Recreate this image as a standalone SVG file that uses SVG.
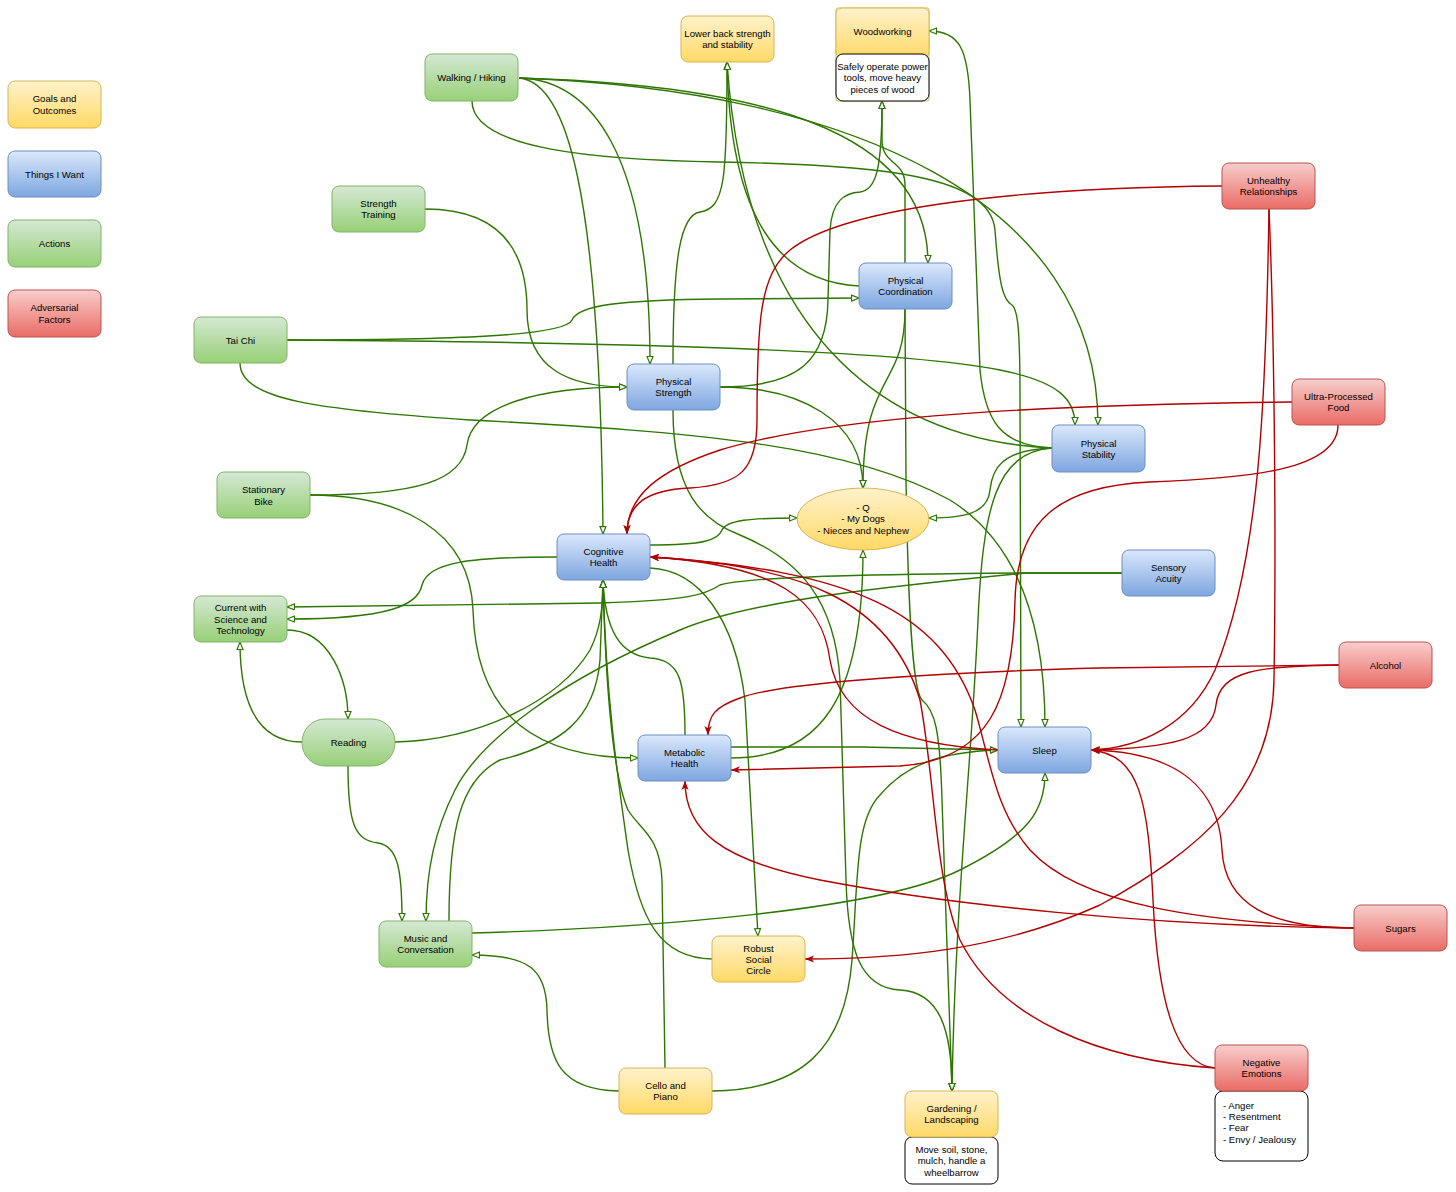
<svg xmlns="http://www.w3.org/2000/svg" width="1456" height="1192" viewBox="0 0 1456 1192">
<defs>
<linearGradient id="gy" x1="0" y1="0" x2="0" y2="1"><stop offset="0" stop-color="#fff2cc"/><stop offset="1" stop-color="#ffd966"/></linearGradient>
<linearGradient id="gb" x1="0" y1="0" x2="0" y2="1"><stop offset="0" stop-color="#dae8fc"/><stop offset="1" stop-color="#7ea6e0"/></linearGradient>
<linearGradient id="gg" x1="0" y1="0" x2="0" y2="1"><stop offset="0" stop-color="#d5e8d4"/><stop offset="1" stop-color="#97d077"/></linearGradient>
<linearGradient id="gr" x1="0" y1="0" x2="0" y2="1"><stop offset="0" stop-color="#f8cecc"/><stop offset="1" stop-color="#ea6b66"/></linearGradient>
<marker id="ga" viewBox="0 0 10 8" refX="9.3" refY="4" markerWidth="9" markerHeight="7.2" orient="auto" markerUnits="userSpaceOnUse"><path d="M1,0.7 L9.3,4 L1,7.3 Z" fill="#fff" stroke="#2D7600" stroke-width="1.3"/></marker>
<marker id="ra" viewBox="0 0 10 8" refX="10" refY="4" markerWidth="9" markerHeight="7.2" orient="auto" markerUnits="userSpaceOnUse"><path d="M0,0 L10,4 L0,8 L2.5,4 Z" fill="#B20000"/></marker>
<style>
.y{fill:url(#gy);stroke:#d6b656;stroke-width:1}
.b{fill:url(#gb);stroke:#6c8ebf;stroke-width:1}
.g{fill:url(#gg);stroke:#82b366;stroke-width:1}
.r{fill:url(#gr);stroke:#b85450;stroke-width:1}
.d{fill:#fff;stroke:#000;stroke-width:1}
text{font-family:"Liberation Sans",Arial,Helvetica,sans-serif;font-size:9.6px;fill:#000;text-anchor:middle}
.l{text-anchor:start}
.eg{fill:none;stroke:#2D7600;stroke-width:1.4;marker-end:url(#ga)}
.er{fill:none;stroke:#B20000;stroke-width:1.4;marker-end:url(#ra)}
</style>
</defs>
<rect width="1456" height="1192" fill="#fff"/>
<g id="connectors">
<path class="eg" d="M519,78 C590,80 650,150 650,364"/>
<path class="eg" d="M519,78 C565,82 600,180 603,534"/>
<path class="eg" d="M519,78 C760,85 928,130 928,263"/>
<path class="eg" d="M519,78 C850,90 1098,200 1098,425"/>
<path class="eg" d="M472,101 C472,150 600,160 720,162 C880,165 990,175 995,230 C999,285 1003,300 1012,305 C1018,310 1020,330 1020,400 L1021,727"/>
<path class="eg" d="M287,340 C450,340 565,336 572,320 C578,305 620,300 720,299 L859,298"/>
<path class="eg" d="M287,340 C600,342 900,350 1000,370 C1060,382 1075,400 1075,425"/>
<path class="eg" d="M240,363 C240,400 320,410 470,420 C700,432 850,445 950,500 C1030,550 1045,650 1045,727"/>
<path class="eg" d="M425,209 C500,209 527,250 527,310 C527,370 570,387 627,387"/>
<path class="eg" d="M310,495 C420,495 462,480 467,445 C472,405 540,387 627,387"/>
<path class="eg" d="M310,495 C400,495 470,530 473,610 C476,720 540,758 638,758"/>
<path class="eg" d="M720,387 C800,387 863,420 863,488"/>
<path class="eg" d="M905,309 C905,390 863,370 863,488"/>
<path class="eg" d="M720,387 C800,387 827,360 828,300 L830,230 C832,200 845,193 860,192 C876,190 882,170 882,101"/>
<path class="eg" d="M905,263 L905,185 C905,160 882,165 882,140 L882,101"/>
<path class="eg" d="M673,364 C673,260 680,215 700,212 C725,208 727,180 727,62"/>
<path class="eg" d="M859,286 C780,282 730,220 727,62"/>
<path class="eg" d="M1052,448 C880,440 745,330 727,62"/>
<path class="eg" d="M1052,448 C1000,446 985,420 980,370 L970,100 C968,50 960,31 929,31"/>
<path class="eg" d="M1052,448 C1000,450 992,470 990,490 C988,515 960,518 929,518"/>
<path class="eg" d="M1052,448 C995,452 983,510 978,620 C972,760 955,900 952,1091"/>
<path class="eg" d="M905,309 L906,480 C908,600 912,690 922,700 C935,710 940,730 942,800 L952,1091"/>
<path class="eg" d="M673,410 C673,490 700,520 740,535 C800,560 835,600 840,680 L846,880 C848,950 860,988 900,990 C940,992 952,1030 952,1091"/>
<path class="eg" d="M650,545 C705,545 718,540 722,530 C727,520 750,518 797,518"/>
<path class="eg" d="M650,568 C700,570 735,620 745,700 L758,936"/>
<path class="eg" d="M557,557 C470,557 428,562 422,585 C418,605 390,619 287,619"/>
<path class="eg" d="M1122,573 L1020,573 C900,574 750,576 720,585 C705,595 690,600 600,603 L287,607"/>
<path class="eg" d="M1122,573 L1025,573 C900,585 750,600 680,630 C560,680 480,740 455,790 C435,830 426,870 426,921"/>
<path class="eg" d="M287,630 C330,630 348,680 348,719"/>
<path class="eg" d="M302,742 C255,742 240,700 240,642"/>
<path class="eg" d="M395,742 C480,740 560,700 590,650 C600,630 603,610 603,580"/>
<path class="eg" d="M449,921 C449,830 460,780 500,760 C560,745 595,720 600,660 L603,580"/>
<path class="eg" d="M685,735 C685,680 680,660 650,658 C620,655 605,630 603,580"/>
<path class="eg" d="M712,959 C660,958 640,920 628,850 C618,780 606,700 603,580"/>
<path class="eg" d="M665,1068 L662,880 C660,835 640,830 628,810 C615,780 606,700 603,580"/>
<path class="eg" d="M348,766 C348,825 355,840 378,843 C398,846 402,870 402,921"/>
<path class="eg" d="M472,933 C650,928 880,910 960,870 C1030,835 1045,810 1045,773"/>
<path class="eg" d="M712,1091 C800,1090 845,1050 852,960 C858,880 855,820 880,795 C905,765 940,752 998,750"/>
<path class="eg" d="M619,1091 C560,1090 548,1060 547,1010 C546,970 530,955 472,955"/>
<path class="eg" d="M731,747 L862,747 L998,750"/>
<path class="eg" d="M731,758 C820,758 863,700 863,550"/>
<path class="er" d="M1222,186 C1000,188 840,210 790,250 C760,275 757,320 757,420 C757,470 740,485 690,488 C645,490 627,505 627,534"/>
<path class="er" d="M1292,402 C1000,405 820,420 720,450 C660,470 627,495 627,534"/>
<path class="er" d="M1338,425 C1338,470 1250,478 1150,482 C1060,486 1017,520 1015,600 C1013,700 990,760 900,766 L731,770"/>
<path class="er" d="M1339,665 L1100,668 C950,672 780,682 740,698 C715,707 708,715 708,735"/>
<path class="er" d="M1339,665 C1260,666 1220,670 1216,705 C1212,740 1170,748 1091,750"/>
<path class="er" d="M1269,209 C1266,400 1260,560 1215,670 C1190,725 1140,748 1091,750"/>
<path class="er" d="M1269,209 C1275,350 1276,550 1274,680 C1272,790 1200,850 1100,905 C1000,950 900,959 805,959"/>
<path class="er" d="M1354,928 C1270,928 1225,905 1222,850 C1219,790 1180,752 1091,750"/>
<path class="er" d="M1354,928 C1150,926 950,905 820,880 C720,860 685,830 685,781"/>
<path class="er" d="M1354,928 C1200,922 1080,905 1030,850 C995,810 990,760 975,710 C940,610 850,570 650,557"/>
<path class="er" d="M1215,1068 C1100,1060 1000,1020 960,940 C935,880 935,780 920,700 C890,600 800,565 650,557"/>
<path class="er" d="M998,750 C900,745 840,720 830,660 C822,600 780,565 650,557"/>
<path class="er" d="M1215,1068 C1175,1065 1158,1000 1153,900 C1148,800 1140,755 1091,750"/>
</g>
<g id="legend-goals"><rect class="y" x="8" y="81" width="93" height="47" rx="7"/><text x="54.5" y="102">Goals and</text><text x="54.5" y="114">Outcomes</text></g>
<g id="legend-want"><rect class="b" x="8" y="151" width="93" height="46" rx="7"/><text x="54.5" y="177.5">Things I Want</text></g>
<g id="legend-actions"><rect class="g" x="8" y="220" width="93" height="47" rx="7"/><text x="54.5" y="247">Actions</text></g>
<g id="legend-adversarial"><rect class="r" x="8" y="290" width="93" height="47" rx="7"/><text x="54.5" y="311">Adversarial</text><text x="54.5" y="323">Factors</text></g>
<g id="walking"><rect class="g" x="425" y="54" width="93" height="47" rx="7"/><text x="471.5" y="81">Walking / Hiking</text></g>
<g id="strength-training"><rect class="g" x="332" y="186" width="93" height="46" rx="7"/><text x="378.5" y="206.5">Strength</text><text x="378.5" y="218">Training</text></g>
<g id="tai-chi"><rect class="g" x="194" y="317" width="93" height="46" rx="7"/><text x="240.5" y="343.5">Tai Chi</text></g>
<g id="stationary-bike"><rect class="g" x="217" y="472" width="93" height="46" rx="7"/><text x="263.5" y="493">Stationary</text><text x="263.5" y="504.5">Bike</text></g>
<g id="current-science"><rect class="g" x="194" y="596" width="93" height="46" rx="7"/><text x="240.5" y="611">Current with</text><text x="240.5" y="622.5">Science and</text><text x="240.5" y="634">Technology</text></g>
<g id="reading"><rect class="g" x="302" y="719" width="93" height="47" rx="23"/><text x="348.5" y="745.5">Reading</text></g>
<g id="music"><rect class="g" x="379" y="921" width="93" height="46" rx="7"/><text x="425.5" y="941.5">Music and</text><text x="425.5" y="953">Conversation</text></g>
<g id="cello"><rect class="y" x="619" y="1068" width="93" height="46" rx="7"/><text x="665.5" y="1088.5">Cello and</text><text x="665.5" y="1100">Piano</text></g>
<g id="robust-social"><rect class="y" x="712" y="936" width="93" height="46" rx="7"/><text x="758.5" y="951.5">Robust</text><text x="758.5" y="962.5">Social</text><text x="758.5" y="974">Circle</text></g>
<g id="gardening"><rect class="d" x="905" y="1137" width="93" height="47" rx="7"/><rect class="y" x="905" y="1091" width="93" height="46" rx="7"/><text x="951.5" y="1111.5">Gardening /</text><text x="951.5" y="1123">Landscaping</text><text x="951.5" y="1152.5">Move soil, stone,</text><text x="951.5" y="1164">mulch, handle a</text><text x="951.5" y="1175.5">wheelbarrow</text></g>
<g id="negative-emotions"><rect class="d" x="1215" y="1091" width="93" height="70" rx="8"/><rect class="r" x="1215" y="1045" width="93" height="46" rx="7"/><text x="1261.5" y="1065.5">Negative</text><text x="1261.5" y="1077">Emotions</text><text class="l" x="1223" y="1108.5">- Anger</text><text class="l" x="1223" y="1119.5">- Resentment</text><text class="l" x="1223" y="1131">- Fear</text><text class="l" x="1223" y="1142.5">- Envy / Jealousy</text></g>
<g id="sugars"><rect class="r" x="1354" y="905" width="93" height="46" rx="7"/><text x="1400.5" y="931.5">Sugars</text></g>
<g id="alcohol"><rect class="r" x="1339" y="642" width="93" height="46" rx="7"/><text x="1385.5" y="668.5">Alcohol</text></g>
<g id="sensory-acuity"><rect class="b" x="1122" y="550" width="93" height="46" rx="7"/><text x="1168.5" y="570.5">Sensory</text><text x="1168.5" y="582">Acuity</text></g>
<g id="ultra-processed"><rect class="r" x="1292" y="379" width="93" height="46" rx="7"/><text x="1338.5" y="399.5">Ultra-Processed</text><text x="1338.5" y="411">Food</text></g>
<g id="unhealthy-relationships"><rect class="r" x="1222" y="163" width="93" height="46" rx="7"/><text x="1268.5" y="183.5">Unhealthy</text><text x="1268.5" y="195">Relationships</text></g>
<g id="physical-stability"><rect class="b" x="1052" y="425" width="93" height="47" rx="7"/><text x="1098.5" y="446.5">Physical</text><text x="1098.5" y="458">Stability</text></g>
<g id="sleep"><rect class="b" x="998" y="727" width="93" height="46" rx="7"/><text x="1044.5" y="753.5">Sleep</text></g>
<g id="q-dogs"><ellipse class="y" cx="863" cy="519" rx="66" ry="31"/><text x="863" y="510.5">- Q</text><text x="863" y="522">- My Dogs</text><text x="863" y="533.5">- Nieces and Nephew</text></g>
<g id="metabolic-health"><rect class="b" x="638" y="735" width="93" height="46" rx="7"/><text x="684.5" y="755.5">Metabolic</text><text x="684.5" y="767">Health</text></g>
<g id="cognitive-health"><rect class="b" x="557" y="534" width="93" height="46" rx="7"/><text x="603.5" y="554.5">Cognitive</text><text x="603.5" y="566">Health</text></g>
<g id="physical-strength"><rect class="b" x="627" y="364" width="93" height="46" rx="7"/><text x="673.5" y="384.5">Physical</text><text x="673.5" y="396">Strength</text></g>
<g id="physical-coordination"><rect class="b" x="859" y="263" width="93" height="46" rx="7"/><text x="905.5" y="283.5">Physical</text><text x="905.5" y="295">Coordination</text></g>
<g id="woodworking"><rect x="836" y="8" width="93" height="93" rx="2" fill="none" stroke="#d6b656" stroke-width="1"/><rect class="y" x="836" y="8" width="93" height="50" rx="6"/><rect class="d" x="836" y="54" width="93" height="47" rx="7"/><text x="882.5" y="34.5">Woodworking</text><text x="882.5" y="69.5">Safely operate power</text><text x="882.5" y="81">tools, move heavy</text><text x="882.5" y="92.5">pieces of wood</text></g>
<g id="lower-back"><rect class="y" x="681" y="16" width="93" height="46" rx="7"/><text x="727.5" y="36.5">Lower back strength</text><text x="727.5" y="48">and stability</text></g>
</svg>
